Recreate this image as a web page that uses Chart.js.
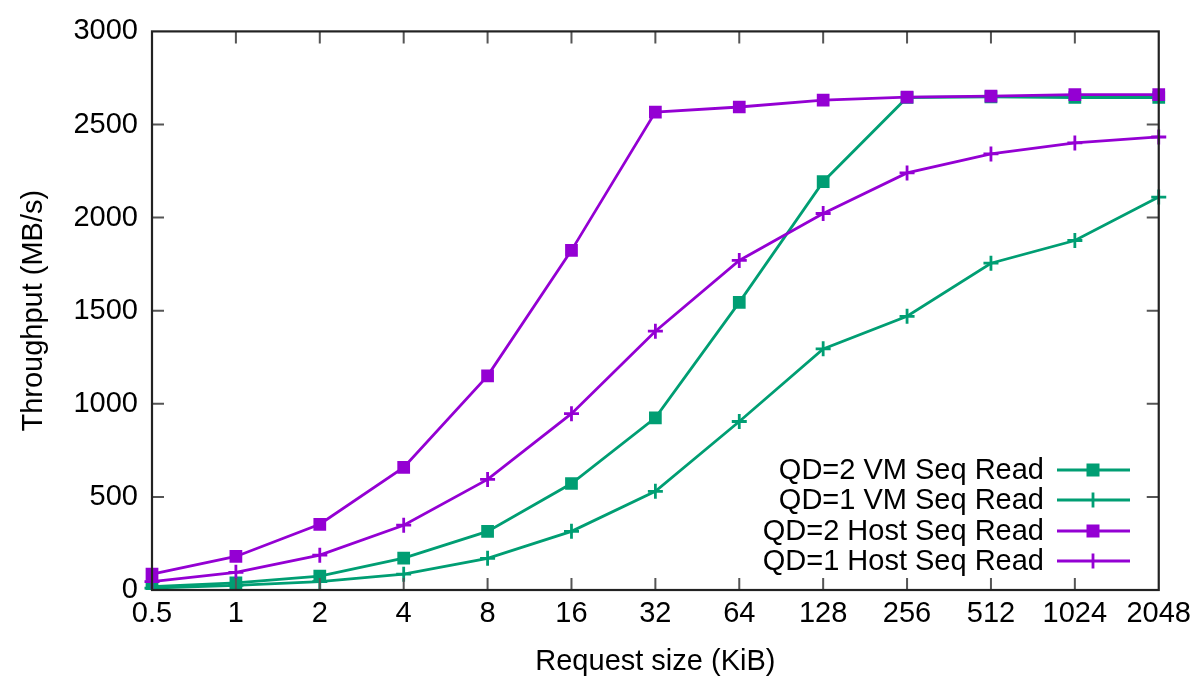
<!DOCTYPE html>
<html>
<head>
<meta charset="utf-8">
<script src="https://cdn.jsdelivr.net/npm/chart.js@4/dist/chart.umd.min.js"></script>
<style>
html,body{margin:0;padding:0;background:#fff;}
#wrap{width:1198px;height:680px;}
</style>
</head>
<body>
<div id="wrap"><canvas id="c" width="1198" height="680"></canvas></div>
<script>
const categories = ["0.5","1","2","4","8","16","32","64","128","256","512","1024","2048"];
const qd2VM   = [18, 38, 75, 171, 315, 572, 925, 1545, 2193, 2645, 2648, 2645, 2645];
const qd1VM   = [10, 25, 45, 85, 170, 315, 530, 905, 1295, 1470, 1755, 1877, 2110];
const qd2Host = [85, 180, 353, 658, 1150, 1824, 2567, 2594, 2631, 2647, 2652, 2660, 2660];
const qd1Host = [45, 95, 187, 348, 594, 947, 1390, 1770, 2022, 2240, 2342, 2401, 2433];
const yTicks = [0, 500, 1000, 1500, 2000, 2500, 3000];
const seriesNames = ["QD=2 VM Seq Read","QD=1 VM Seq Read","QD=2 Host Seq Read","QD=1 Host Seq Read"];

const GREEN = '#009E73';
const PURPLE = '#9400D3';
const FONT = "'Liberation Sans', Arial, Helvetica, sans-serif";
const FS = 29;

function ds(label, data, color, style, order){
  return {
    label, data, borderColor: color, backgroundColor: color,
    borderWidth: 2.8, pointStyle: style,
    pointRadius: style === 'rect' ? 9 : 7.5, pointHoverRadius: style === 'rect' ? 9 : 7.5,
    pointBorderWidth: style === 'rect' ? 0 : 2.8,
    pointBorderColor: color, pointBackgroundColor: color,
    tension: 0, fill: false, order
  };
}

const frameTicks = {
  id: 'frameTicks',
  afterDatasetsDraw(chart){
    const {ctx, chartArea:a, scales:{x, y}} = chart;
    ctx.save();
    ctx.strokeStyle = '#555';
    ctx.lineWidth = 2;
    const L = 12;
    ctx.beginPath();
    categories.forEach((c,i)=>{
      const px = x.getPixelForValue(i);
      if (i===0 || i===categories.length-1) return;
      ctx.moveTo(px, a.bottom); ctx.lineTo(px, a.bottom - L);
      ctx.moveTo(px, a.top); ctx.lineTo(px, a.top + L);
    });
    yTicks.forEach(v=>{
      if (v===0 || v===3000) return;
      const py = y.getPixelForValue(v);
      ctx.moveTo(a.left, py); ctx.lineTo(a.left + L, py);
      ctx.moveTo(a.right, py); ctx.lineTo(a.right - L, py);
    });
    ctx.stroke();
    ctx.strokeStyle = '#222';
    ctx.lineWidth = 2.2;
    ctx.strokeRect(a.left, a.top, a.right - a.left, a.bottom - a.top);

    // legend (inside, bottom right)
    const colors = [GREEN, GREEN, PURPLE, PURPLE];
    const styles = ['rect','cross','rect','cross'];
    const textRight = 1044, lineX0 = 1057, lineX1 = 1130, mx = 1093;
    const rowY = [470, 500, 531, 561];
    ctx.font = FS + 'px ' + FONT;
    ctx.textAlign = 'right';
    ctx.textBaseline = 'middle';
    seriesNames.forEach((n,i)=>{
      const yy = rowY[i];
      ctx.fillStyle = '#000';
      ctx.fillText(n, textRight, yy + 1);
      ctx.strokeStyle = colors[i];
      ctx.lineWidth = 2.8;
      ctx.beginPath(); ctx.moveTo(lineX0, yy); ctx.lineTo(lineX1, yy); ctx.stroke();
      ctx.fillStyle = colors[i];
      if (styles[i]==='rect'){
        ctx.fillRect(mx-6.5, yy-6.5, 13, 13);
      } else {
        ctx.beginPath(); ctx.moveTo(mx, yy-7.5); ctx.lineTo(mx, yy+7.5); ctx.stroke();
      }
    });
    ctx.restore();
  }
};

new Chart(document.getElementById('c'), {
  type: 'line',
  data: {
    labels: categories,
    datasets: [
      ds(seriesNames[0], qd2VM, GREEN, 'rect', 4),
      ds(seriesNames[1], qd1VM, GREEN, 'cross', 3),
      ds(seriesNames[2], qd2Host, PURPLE, 'rect', 2),
      ds(seriesNames[3], qd1Host, PURPLE, 'cross', 1)
    ]
  },
  options: {
    responsive: false,
    animation: false,
    events: [],
    layout: { padding: { top: 28, right: 38, left: 0, bottom: 0 } },
    plugins: { legend: { display: false }, tooltip: { enabled: false } },
    scales: {
      x: {
        type: 'category',
        offset: false,
        grid: { display: false, drawTicks: false },
        border: { display: false },
        ticks: { color: '#000', font: { family: FONT, size: FS }, padding: 7, maxRotation: 0, autoSkip: false },
        title: { display: true, text: 'Request size (KiB)', color: '#000', font: { family: FONT, size: FS }, padding: { top: 0, bottom: 1 } },
        afterFit(s){ s.height = 90; }
      },
      y: {
        min: 0, max: 3000,
        afterBuildTicks(s){ s.ticks = yTicks.map(v=>({value:v})); },
        grid: { display: false, drawTicks: false },
        border: { display: false },
        ticks: { color: '#000', font: { family: FONT, size: FS }, padding: 14, callback: v => String(v) },
        title: { display: true, text: 'Throughput (MB/s)', color: '#000', font: { family: FONT, size: FS }, padding: { top: 17, bottom: 0 } },
        afterFit(s){ s.width = 152; }
      }
    }
  },
  plugins: [frameTicks]
});
</script>
</body>
</html>
